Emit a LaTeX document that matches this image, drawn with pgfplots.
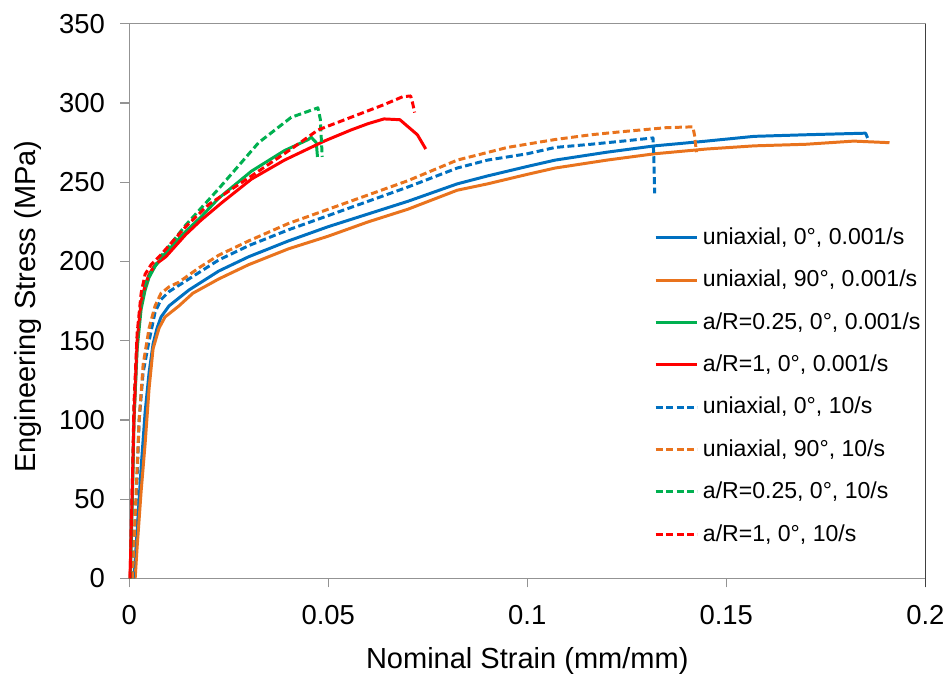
\documentclass[border=0pt]{standalone}
\usepackage{fontspec}
\setmainfont{Liberation Sans}
\usepackage{pgfplots}
\pgfplotsset{compat=1.18}

\definecolor{exblue}{HTML}{0070C0}
\definecolor{exorange}{HTML}{E9731D}
\definecolor{exgreen}{HTML}{00B050}
\definecolor{exred}{HTML}{FF0000}

\begin{document}
\begin{tikzpicture}
\begin{axis}[
  width=400.5pt, height=279pt, scale only axis,
  xmin=0, xmax=0.2, ymin=0, ymax=350,
  xtick={0,0.05,0.1,0.15,0.2},
  xticklabels={0,0.05,0.1,0.15,0.2},
  ytick={0,50,...,350},
  tick align=outside,
  xtick pos=bottom, ytick pos=left,
  major tick length=4.5pt,
  tick style={gray!85, line width=0.6pt},
  axis line style={gray!85, line width=0.6pt},
  /pgf/number format/assume math mode=true,
  tick label style={font=\fontsize{13.8}{16}\selectfont},
  yticklabel style={xshift=-4.2pt},
  xticklabel style={yshift=-5.5pt},
  xlabel={Nominal Strain (mm/mm)},
  ylabel={Engineering Stress (MPa)},
  every axis x label/.style={at={(rel axis cs:0.5,-0.148)}, anchor=center,
    font=\fontsize{14.6}{17}\selectfont},
  every axis y label/.style={at={(rel axis cs:-0.127,0.49)}, rotate=90, anchor=center,
    font=\fontsize{14.6}{17}\selectfont},
  clip=false,
  legend cell align=left,
  legend style={draw=none, fill=none, at={(0.659,0.640)}, anchor=north west,
    font=\fontsize{11.6}{13.5}\selectfont, row sep=7.4pt, inner sep=0pt},
  legend image code/.code={\draw[#1] (0pt,0pt) -- (21pt,0pt);},
  every axis plot/.append style={line width=1.5pt, line join=round},
  dsh/.style={dash pattern=on 3.5pt off 1.75pt},
]
% uniaxial, 0deg, 0.001/s
\addplot[exblue] coordinates {
(0.0012,0) (0.002,30) (0.003,70) (0.004,105) (0.005,130) (0.006,148) (0.007,158)
(0.008,165) (0.01,172) (0.0125,177) (0.015,182) (0.02,190) (0.0225,194) (0.03,203)
(0.04,213) (0.05,222) (0.06,230) (0.07,238) (0.0824,249) (0.09,254) (0.1,260)
(0.107,264) (0.12,269) (0.132,273) (0.145,276) (0.157,279) (0.17,280) (0.185,281) (0.1855,278)};
\addlegendentry{uniaxial, 0°, 0.001/s}
% uniaxial, 90deg, 0.001/s
\addplot[exorange] coordinates {
(0.0015,0) (0.002,20) (0.003,55) (0.004,85) (0.005,120) (0.006,145) (0.0075,158)
(0.009,165) (0.0125,172) (0.016,180) (0.0225,189) (0.03,198) (0.04,208) (0.05,216)
(0.06,225) (0.07,233) (0.0824,245) (0.09,249) (0.1,255) (0.107,259) (0.12,264)
(0.132,268) (0.145,271) (0.157,273) (0.17,274) (0.182,276) (0.191,275)};
\addlegendentry{uniaxial, 90°, 0.001/s}
% a/R=0.25, 0deg, 0.001/s
\addplot[exgreen] coordinates {
(0.0003,0) (0.0008,50) (0.0012,100) (0.002,145) (0.003,170) (0.004,182) (0.005,190)
(0.0065,197) (0.009,205) (0.0142,219) (0.018,228) (0.0225,240) (0.0307,257)
(0.039,270) (0.045,277) (0.0457,278.5) (0.047,275) (0.0473,266)};
\addlegendentry{a/R=0.25, 0°, 0.001/s}
% a/R=1, 0deg, 0.001/s
\addplot[exred] coordinates {
(0.0002,0) (0.0008,60) (0.0012,100) (0.002,150) (0.003,175) (0.004,185) (0.005,192)
(0.0065,198) (0.0092,203) (0.0142,217) (0.018,226) (0.0232,237) (0.0307,252)
(0.039,264) (0.049,276) (0.0557,283) (0.06,287) (0.064,290) (0.068,289.5)
(0.0724,280) (0.0745,271)};
\addlegendentry{a/R=1, 0°, 0.001/s}
% uniaxial, 0deg, 10/s
\addplot[exblue, dsh] coordinates {
(0.001,0) (0.0015,30) (0.0025,100) (0.0035,130) (0.005,150) (0.0065,168) (0.008,176)
(0.01,181) (0.0125,185) (0.0175,193) (0.0225,201) (0.03,210) (0.04,220) (0.05,229)
(0.06,238) (0.07,247) (0.0824,259) (0.09,264) (0.1,268) (0.107,272) (0.116,274)
(0.124,276) (0.1316,278) (0.1318,265) (0.132,243)};
\addlegendentry{uniaxial, 0°, 10/s}
% uniaxial, 90deg, 10/s
\addplot[exorange, dsh] coordinates {
(0.0008,0) (0.0015,40) (0.0025,100) (0.0035,135) (0.005,158) (0.0065,172) (0.008,180)
(0.01,184) (0.0125,187) (0.0175,196) (0.0225,204) (0.03,213) (0.04,224) (0.05,233)
(0.06,242) (0.07,251) (0.0824,264) (0.095,272) (0.107,277) (0.116,280) (0.124,282)
(0.135,284.5) (0.1416,285) (0.142,280) (0.1425,269)};
\addlegendentry{uniaxial, 90°, 10/s}
% a/R=0.25, 0deg, 10/s
\addplot[exgreen, dsh] coordinates {
(0.0003,0) (0.0008,55) (0.0012,105) (0.002,150) (0.003,175) (0.004,186) (0.0055,193)
(0.0082,204) (0.0142,223) (0.0225,246) (0.0325,275) (0.0407,291) (0.0474,297)
(0.048,290) (0.0485,266)};
\addlegendentry{a/R=0.25, 0°, 10/s}
% a/R=1, 0deg, 10/s
\addplot[exred, dsh] coordinates {
(0.0002,0) (0.0008,60) (0.0012,110) (0.002,155) (0.003,180) (0.004,192) (0.0055,198)
(0.0075,203) (0.0142,222) (0.02,236) (0.0307,254) (0.0407,271) (0.0474,283)
(0.0557,291) (0.064,299) (0.0687,304) (0.0707,304.5) (0.0712,300) (0.0717,294)};
\addlegendentry{a/R=1, 0°, 10/s}
% right spine is darker in the original
\draw[black!75, line width=0.7pt] (rel axis cs:1,-0.016) -- (rel axis cs:1,1);
\path (rel axis cs:-0.1623,-0.1738) rectangle (rel axis cs:1.025,1.043);
\end{axis}
\end{tikzpicture}
\end{document}
